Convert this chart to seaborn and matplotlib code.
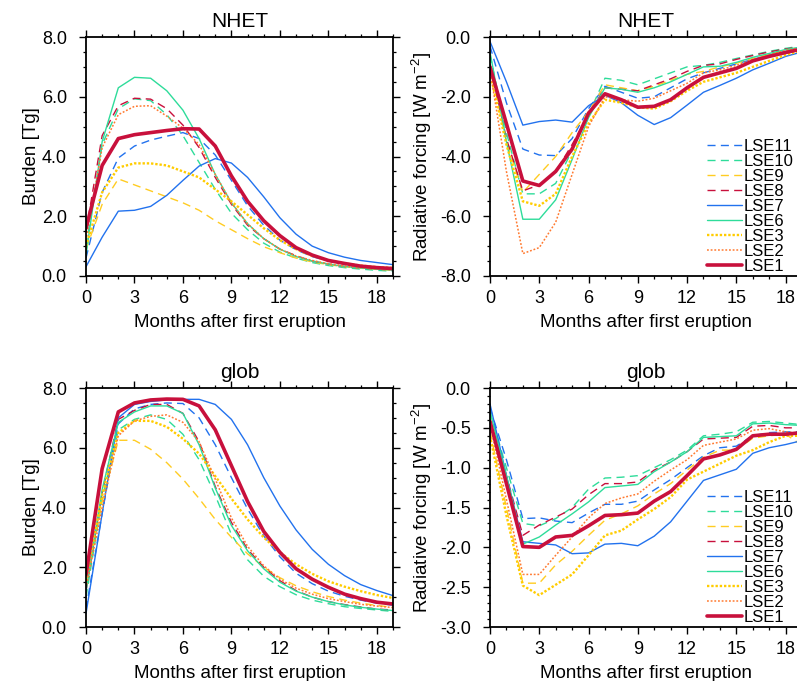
import numpy as np
import pandas as pd
import matplotlib
matplotlib.use("Agg")
import matplotlib.pyplot as plt
from matplotlib.ticker import MultipleLocator, FormatStrFormatter
import seaborn as sns

months = list(range(20))
series = ["LSE11", "LSE10", "LSE9", "LSE8", "LSE7", "LSE6", "LSE3", "LSE2", "LSE1"]

# NHET burden [Tg]
nhet_burden = {
    "LSE11": [0.6, 2.8, 3.95, 4.35, 4.55, 4.68, 4.8, 4.6, 4.05, 3.2, 2.35, 1.7, 1.2, 0.88, 0.65, 0.5, 0.4, 0.33, 0.28, 0.24],
    "LSE10": [1.0, 4.4, 5.6, 5.93, 5.87, 5.4, 4.7, 3.8, 2.9, 2.1, 1.55, 1.1, 0.8, 0.6, 0.45, 0.35, 0.28, 0.23, 0.19, 0.16],
    "LSE9": [0.9, 2.4, 3.25, 3.05, 2.85, 2.65, 2.45, 2.2, 1.85, 1.55, 1.25, 0.98, 0.78, 0.6, 0.47, 0.38, 0.31, 0.26, 0.22, 0.19],
    "LSE8": [1.5, 4.7, 5.7, 5.95, 5.92, 5.6, 5.05, 4.3, 3.3, 2.4, 1.7, 1.25, 0.9, 0.68, 0.5, 0.4, 0.32, 0.27, 0.23, 0.2],
    "LSE7": [0.31, 1.3, 2.17, 2.2, 2.33, 2.7, 3.2, 3.68, 3.93, 3.78, 3.3, 2.65, 1.95, 1.4, 1.0, 0.78, 0.63, 0.52, 0.45, 0.38],
    "LSE6": [0.7, 4.5, 6.3, 6.65, 6.62, 6.2, 5.55, 4.6, 3.4, 2.45, 1.75, 1.25, 0.9, 0.65, 0.5, 0.4, 0.32, 0.27, 0.23, 0.2],
    "LSE3": [1.0, 2.8, 3.63, 3.77, 3.77, 3.7, 3.5, 3.3, 2.9, 2.5, 2.05, 1.6, 1.2, 0.9, 0.67, 0.52, 0.42, 0.35, 0.3, 0.27],
    "LSE2": [1.2, 4.3, 5.4, 5.68, 5.7, 5.35, 4.95, 4.4, 3.4, 2.45, 1.75, 1.25, 0.9, 0.67, 0.52, 0.41, 0.33, 0.28, 0.24, 0.21],
    "LSE1": [1.6, 3.7, 4.6, 4.73, 4.8, 4.87, 4.93, 4.92, 4.35, 3.35, 2.5, 1.85, 1.35, 0.95, 0.7, 0.52, 0.42, 0.33, 0.28, 0.25],
}

# NHET radiative forcing [W m-2]
nhet_rf = {
    "LSE11": [-0.3, -2.2, -3.75, -3.95, -3.97, -3.4, -2.4, -1.65, -1.85, -2.05, -2.0, -1.7, -1.4, -1.2, -1.05, -0.9, -0.75, -0.6, -0.48, -0.38],
    "LSE10": [-0.6, -3.2, -5.25, -5.25, -4.9, -3.8, -2.6, -1.38, -1.45, -1.6, -1.4, -1.2, -1.0, -0.95, -0.85, -0.72, -0.6, -0.48, -0.38, -0.3],
    "LSE9": [-1.0, -3.5, -5.2, -4.6, -4.0, -3.2, -2.5, -1.6, -1.7, -1.8, -1.65, -1.45, -1.25, -1.15, -1.0, -0.88, -0.72, -0.58, -0.45, -0.35],
    "LSE8": [-0.9, -3.4, -5.15, -4.95, -4.5, -3.6, -2.6, -1.7, -1.75, -1.8, -1.6, -1.4, -1.15, -0.95, -0.9, -0.75, -0.62, -0.5, -0.4, -0.33],
    "LSE7": [-0.15, -1.5, -2.95, -2.83, -2.78, -2.85, -2.3, -1.95, -2.2, -2.62, -2.93, -2.7, -2.28, -1.85, -1.62, -1.38, -1.1, -0.88, -0.65, -0.5],
    "LSE6": [-0.5, -3.5, -6.1, -6.1, -5.45, -4.1, -2.7, -1.7, -1.75, -1.85, -1.7, -1.5, -1.25, -1.0, -0.98, -0.85, -0.68, -0.55, -0.42, -0.33],
    "LSE3": [-1.2, -3.6, -5.5, -5.65, -5.25, -4.0, -2.9, -2.1, -2.2, -2.35, -2.4, -2.15, -1.8, -1.5, -1.35, -1.2, -1.0, -0.8, -0.6, -0.45],
    "LSE2": [-1.1, -4.5, -7.25, -7.05, -6.2, -4.6, -3.0, -2.0, -2.1, -2.15, -2.05, -1.8, -1.55, -1.2, -1.1, -0.95, -0.75, -0.6, -0.45, -0.35],
    "LSE1": [-1.0, -2.9, -4.82, -4.97, -4.5, -3.75, -2.55, -1.9, -2.1, -2.35, -2.32, -2.1, -1.7, -1.35, -1.2, -1.05, -0.8, -0.65, -0.52, -0.4],
}

# glob burden [Tg]
glob_burden = {
    "LSE11": [0.6, 3.8, 6.8, 7.3, 7.45, 7.5, 7.48, 7.0, 6.1, 5.0, 3.95, 3.05, 2.35, 1.8, 1.45, 1.2, 1.03, 0.9, 0.8, 0.73],
    "LSE10": [1.0, 4.3, 6.6, 6.95, 7.1, 6.95, 6.45, 5.6, 4.4, 3.1, 2.25, 1.7, 1.35, 1.08, 0.9, 0.78, 0.68, 0.62, 0.57, 0.52],
    "LSE9": [1.5, 4.2, 6.25, 6.25, 5.95, 5.5, 4.95, 4.3, 3.6, 3.0, 2.45, 2.0, 1.65, 1.38, 1.18, 1.02, 0.9, 0.8, 0.72, 0.66],
    "LSE8": [1.2, 4.5, 6.95, 7.25, 7.45, 7.45, 7.15, 6.2, 4.7, 3.5, 2.6, 2.0, 1.55, 1.22, 1.0, 0.85, 0.75, 0.67, 0.6, 0.57],
    "LSE7": [0.45, 3.8, 7.0, 7.45, 7.55, 7.6, 7.62, 7.62, 7.45, 6.95, 6.1, 5.0, 4.05, 3.25, 2.6, 2.1, 1.72, 1.42, 1.22, 1.05],
    "LSE6": [1.2, 4.6, 6.85, 7.2, 7.4, 7.4, 7.15, 6.1, 4.65, 3.4, 2.55, 1.95, 1.5, 1.2, 1.0, 0.85, 0.74, 0.66, 0.6, 0.55],
    "LSE3": [1.6, 4.4, 6.5, 6.9, 6.9, 6.7, 6.3, 5.8, 5.05, 4.3, 3.6, 3.0, 2.5, 2.1, 1.78, 1.53, 1.35, 1.2, 1.07, 0.97],
    "LSE2": [1.3, 4.0, 6.4, 6.9, 7.05, 7.1, 6.85, 6.2, 4.95, 3.65, 2.7, 2.05, 1.6, 1.3, 1.1, 0.95, 0.85, 0.76, 0.7, 0.65],
    "LSE1": [1.75, 5.3, 7.2, 7.5, 7.6, 7.63, 7.62, 7.4, 6.6, 5.4, 4.2, 3.2, 2.5, 1.95, 1.6, 1.33, 1.1, 0.95, 0.83, 0.77],
}

# glob radiative forcing [W m-2]
glob_rf = {
    "LSE11": [-0.25, -0.9, -1.64, -1.63, -1.67, -1.69, -1.57, -1.46, -1.46, -1.42, -1.28, -1.15, -1.0, -0.85, -0.75, -0.73, -0.6, -0.56, -0.55, -0.55],
    "LSE10": [-0.3, -1.0, -1.7, -1.73, -1.64, -1.5, -1.27, -1.13, -1.12, -1.1, -1.0, -0.9, -0.78, -0.6, -0.58, -0.55, -0.43, -0.42, -0.44, -0.46],
    "LSE9": [-0.55, -1.5, -2.45, -2.45, -2.22, -2.05, -1.85, -1.66, -1.58, -1.48, -1.33, -1.2, -1.03, -0.87, -0.78, -0.78, -0.63, -0.6, -0.58, -0.72],
    "LSE8": [-0.4, -1.1, -1.85, -1.72, -1.62, -1.52, -1.34, -1.2, -1.2, -1.18, -1.03, -0.93, -0.8, -0.64, -0.63, -0.62, -0.48, -0.47, -0.5, -0.5],
    "LSE7": [-0.2, -1.1, -1.93, -1.95, -1.97, -2.08, -2.07, -1.96, -1.95, -1.98, -1.86, -1.68, -1.42, -1.16, -1.09, -1.02, -0.82, -0.75, -0.71, -0.66],
    "LSE6": [-0.3, -1.1, -1.96, -1.87, -1.72, -1.58, -1.43, -1.25, -1.23, -1.21, -1.05, -0.93, -0.8, -0.62, -0.61, -0.6, -0.45, -0.44, -0.46, -0.47],
    "LSE3": [-0.6, -1.6, -2.48, -2.6, -2.47, -2.34, -2.1, -1.85, -1.79, -1.65, -1.52, -1.37, -1.15, -1.05, -0.95, -0.85, -0.78, -0.68, -0.6, -0.6],
    "LSE2": [-0.45, -1.4, -2.34, -2.34, -2.1, -1.87, -1.63, -1.45, -1.38, -1.33, -1.17, -1.03, -0.9, -0.72, -0.68, -0.64, -0.53, -0.51, -0.55, -0.57],
    "LSE1": [-0.42, -1.2, -1.99, -2.0, -1.87, -1.85, -1.73, -1.6, -1.59, -1.57, -1.42, -1.3, -1.1, -0.89, -0.84, -0.77, -0.6, -0.58, -0.58, -0.56],
}

panel_titles = ["NHET", "NHET", "glob", "glob"]
ylabels = ["Burden [Tg]", "Radiative forcing [W m$^{-2}$]", "Burden [Tg]", "Radiative forcing [W m$^{-2}$]"]
xlabel = "Months after first eruption"

BLUE = "#2272ee"
GREEN = "#2edc9a"
GOLD = "#ffcc22"
CRIMSON = "#c8103c"
ORANGE = "#ff7a30"
styles = {
    "LSE11": dict(color=BLUE, ls=(0, (5.8, 3.8)), lw=1.0),
    "LSE10": dict(color=GREEN, ls=(0, (5.8, 3.8)), lw=1.0),
    "LSE9": dict(color=GOLD, ls=(0, (5.8, 3.8)), lw=1.0),
    "LSE8": dict(color=CRIMSON, ls=(0, (5.8, 3.8)), lw=1.0),
    "LSE7": dict(color=BLUE, ls="-", lw=1.0),
    "LSE6": dict(color=GREEN, ls="-", lw=1.0),
    "LSE3": dict(color="#ffcc00", ls=(0, (1.0, 0.8)), lw=1.7),
    "LSE2": dict(color=ORANGE, ls=(0, (1.2, 1.2)), lw=1.1),
    "LSE1": dict(color=CRIMSON, ls="-", lw=2.6),
}

sns.set_style("ticks")
plt.rcParams["font.family"] = ["Liberation Sans", "DejaVu Sans"]
plt.rcParams["mathtext.fontset"] = "custom"
plt.rcParams["mathtext.rm"] = "Liberation Sans"
plt.rcParams["mathtext.it"] = "Liberation Sans"
for key in ["text.color", "axes.labelcolor", "xtick.color", "ytick.color",
            "xtick.labelcolor", "ytick.labelcolor", "axes.edgecolor"]:
    plt.rcParams[key] = "black"

fig = plt.figure(figsize=(7.97, 6.81), dpi=100)
W, H = 797.0, 681.0
boxes = [(86, 37, 393, 276), (490, 37, 802, 276), (86, 388, 393, 627), (490, 388, 802, 627)]
datasets = [nhet_burden, nhet_rf, glob_burden, glob_rf]
ylims = [(0, 8), (-8, 0), (0, 8), (-3, 0)]
ymajor = [2, 2, 2, 0.5]
yminor = [0.5, 0.5, 0.5, 0.1]
ylabelpads = [1, 4, 1, 4]

for i, (l, t, r, b) in enumerate(boxes):
    ax = fig.add_axes([l / W, 1 - b / H, (r - l) / W, (b - t) / H])
    data = datasets[i]
    for s in series:
        st = styles[s]
        df = pd.DataFrame({"month": months, "value": data[s]})
        sns.lineplot(data=df, x="month", y="value", ax=ax, color=st["color"],
                     linestyle=st["ls"], linewidth=st["lw"], label=s)
    ax.set_xlim(0, 19)
    ax.set_ylim(*ylims[i])
    ax.xaxis.set_major_locator(MultipleLocator(3))
    ax.xaxis.set_minor_locator(MultipleLocator(1))
    ax.yaxis.set_major_locator(MultipleLocator(ymajor[i]))
    ax.yaxis.set_minor_locator(MultipleLocator(yminor[i]))
    ax.yaxis.set_major_formatter(FormatStrFormatter("%.1f"))
    ax.tick_params(which="major", direction="out", length=4.8, width=1.0,
                   top=True, right=True, labelsize=13, color="black", labelcolor="black")
    ax.tick_params(which="minor", direction="out", length=2.2, width=0.9,
                   top=True, right=True, color="black")
    ax.tick_params(axis="x", which="major", pad=5.5)
    ax.tick_params(axis="y", which="major", pad=9)
    for sp in ax.spines.values():
        sp.set_linewidth(1.3)
        sp.set_color("black")
    ax.set_title(panel_titles[i], fontsize=15, pad=7, color="black")
    ax.set_xlabel(xlabel, fontsize=13.5, labelpad=5, color="black")
    ax.set_ylabel(ylabels[i], fontsize=13.5, labelpad=ylabelpads[i], color="black")
    if i in (1, 3):
        leg = ax.legend(loc="lower left", bbox_to_anchor=(0.695, 0.008), frameon=False,
                        fontsize=12, handlelength=2.1, handletextpad=0.1,
                        labelspacing=0.0, borderpad=0, borderaxespad=0)
        for txt in leg.get_texts():
            txt.set_color("black")
    else:
        leg = ax.get_legend()
        if leg is not None:
            leg.remove()

fig.savefig("out.png", dpi=100)
